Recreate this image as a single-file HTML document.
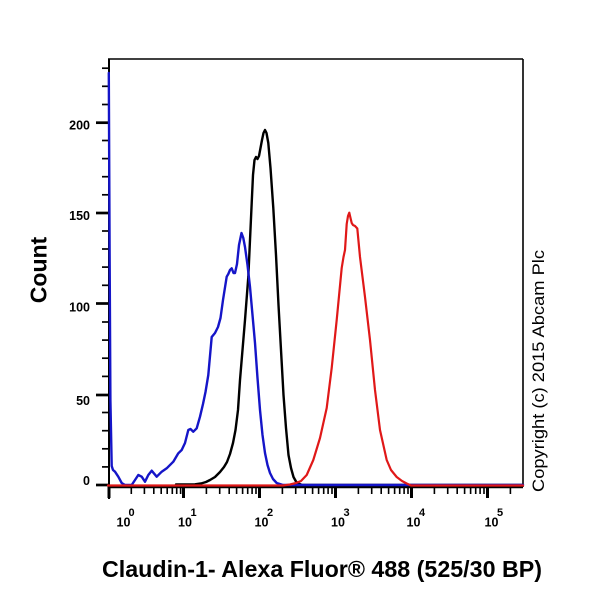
<!DOCTYPE html>
<html>
<head>
<meta charset="utf-8">
<style>
html,body{margin:0;padding:0;background:#fff;}
svg{display:block;}
</style>
</head>
<body>
<svg width="600" height="600" viewBox="0 0 600 600" xmlns="http://www.w3.org/2000/svg">
<rect width="600" height="600" fill="#fff"/>

<!-- frame -->
<line x1="108" y1="59" x2="523" y2="59" stroke="#000" stroke-width="1.6"/>
<line x1="523" y1="59" x2="523" y2="487" stroke="#000" stroke-width="1.6"/>
<line x1="109" y1="59" x2="109" y2="499" stroke="#000" stroke-width="2"/>
<line x1="108" y1="487" x2="523" y2="487" stroke="#000" stroke-width="2.4"/>

<!-- y ticks -->
<g stroke="#000">
  <g stroke-width="2.7">
    <line x1="96" y1="485" x2="109" y2="485"/>
    <line x1="96" y1="395" x2="109" y2="395"/>
    <line x1="96" y1="303.5" x2="109" y2="303.5"/>
    <line x1="96" y1="213" x2="109" y2="213"/>
    <line x1="96" y1="122.7" x2="109" y2="122.7"/>
  </g>
  <g stroke-width="1.7">
    <line x1="102" y1="466.9" x2="109" y2="466.9"/>
    <line x1="102" y1="448.8" x2="109" y2="448.8"/>
    <line x1="102" y1="430.7" x2="109" y2="430.7"/>
    <line x1="102" y1="412.5" x2="109" y2="412.5"/>
    <line x1="102" y1="376.4" x2="109" y2="376.4"/>
    <line x1="102" y1="358.2" x2="109" y2="358.2"/>
    <line x1="102" y1="340.1" x2="109" y2="340.1"/>
    <line x1="102" y1="322" x2="109" y2="322"/>
    <line x1="102" y1="285.3" x2="109" y2="285.3"/>
    <line x1="102" y1="267.1" x2="109" y2="267.1"/>
    <line x1="102" y1="249" x2="109" y2="249"/>
    <line x1="102" y1="231" x2="109" y2="231"/>
    <line x1="102" y1="194.8" x2="109" y2="194.8"/>
    <line x1="102" y1="176.7" x2="109" y2="176.7"/>
    <line x1="102" y1="158.6" x2="109" y2="158.6"/>
    <line x1="102" y1="140.5" x2="109" y2="140.5"/>
    <line x1="102" y1="104.5" x2="109" y2="104.5"/>
    <line x1="102" y1="86.3" x2="109" y2="86.3"/>
    <line x1="102" y1="68.2" x2="109" y2="68.2"/>
  </g>
</g>

<!-- y labels -->
<g font-family="Liberation Sans, Arial, sans-serif" font-weight="bold" font-size="12.5" fill="#000" text-anchor="end">
  <text x="90" y="129.5">200</text>
  <text x="90" y="220">150</text>
  <text x="90" y="311.5">100</text>
  <text x="90" y="405">50</text>
  <text x="90" y="485">0</text>
</g>

<!-- x ticks -->
<g stroke="#000" stroke-width="3">
  <line x1="109" y1="486" x2="109" y2="498"/>
  <line x1="183.5" y1="486" x2="183.5" y2="498"/>
  <line x1="259.5" y1="486" x2="259.5" y2="498"/>
  <line x1="335.5" y1="486" x2="335.5" y2="498"/>
  <line x1="411.5" y1="486" x2="411.5" y2="498"/>
  <line x1="487.5" y1="486" x2="487.5" y2="498"/>
</g>
<g stroke="#000" stroke-width="1.6">
  <path d="M131.3 486V494M144.4 486V494M153.8 486V494M161.2 486V494M167.2 486V494M172.3 486V494M176.7 486V494M180.6 486V494"/>
  <path d="M206.4 486V494M219.7 486V494M229.2 486V494M236.6 486V494M242.6 486V494M247.7 486V494M252.1 486V494M256 486V494"/>
  <path d="M282.4 486V494M295.7 486V494M305.2 486V494M312.6 486V494M318.6 486V494M323.7 486V494M328.1 486V494M332 486V494"/>
  <path d="M358.4 486V494M371.7 486V494M381.2 486V494M388.6 486V494M394.6 486V494M399.7 486V494M404.1 486V494M408 486V494"/>
  <path d="M434.4 486V494M447.7 486V494M457.2 486V494M464.6 486V494M470.6 486V494M475.7 486V494M480.1 486V494M484 486V494"/>
  <path d="M510.4 486V494"/>
</g>

<!-- x labels -->
<g font-family="Liberation Sans, Arial, sans-serif" font-weight="bold" fill="#000">
  <text x="116.5" y="526.5" font-size="12.5">10</text><text x="128.5" y="516" font-size="11">0</text>
  <text x="178" y="526.5" font-size="12.5">10</text><text x="190.5" y="516" font-size="11">1</text>
  <text x="254.5" y="526.5" font-size="12.5">10</text><text x="267" y="516" font-size="11">2</text>
  <text x="331" y="526.5" font-size="12.5">10</text><text x="343.5" y="516" font-size="11">3</text>
  <text x="406.5" y="526.5" font-size="12.5">10</text><text x="419" y="516" font-size="11">4</text>
  <text x="484.5" y="526.5" font-size="12.5">10</text><text x="497" y="516" font-size="11">5</text>
</g>

<!-- series -->
<g fill="none" stroke-linejoin="round" stroke-linecap="round">
  <!-- black -->
  <path stroke="#000" stroke-width="2.4" d="M176 484.5 L195 484.3 L201 483.5 L206 482 L210 480 L215 477 L220 472 L224 467 L227 462 L230 454 L233 443 L235.5 430 L238 410 L240 380 L242.5 350 L245 320 L248.3 277 L250 240 L251.7 203 L253 175 L254.5 160 L256 157 L257.5 159 L259 156 L260.5 148 L262 140 L263.5 133 L265 130 L266.5 133 L268.3 143 L270.5 168 L273.3 208 L276 255 L278.5 305 L281 350 L283.5 395 L286 428 L288.5 455 L291 468 L293.5 477 L296 481.5 L298.5 483.5 L302 485 L523 485"/>
  <!-- blue -->
  <path stroke="#1515c8" stroke-width="2.4" d="M108.8 73 L109.6 250 L110.4 400 L111.7 466 L113 470 L115 471.7 L118.3 476.7 L121.7 483 L125 485 L131.7 485 L135 480 L138.3 475 L141.7 476.7 L145 481.7 L148.3 475 L151.7 470.7 L156.7 476.7 L161.7 471.7 L166.7 468.3 L173.3 461.7 L178.3 453.3 L181.7 450 L185 443 L188.3 430 L190.5 429 L193.3 431.7 L196.7 428.3 L200 416.7 L203 404 L205.5 392 L208.3 375 L211.7 337 L215 333 L218 327 L220.5 318 L223 300 L226.7 276.7 L228.3 274 L230 270 L231.7 268.3 L233.5 273 L235 273 L237 264 L239 245 L241.5 233 L243.3 238 L245 247 L247.5 265 L250 287 L252.5 315 L255 343 L257.5 378 L260 410 L262.5 435 L265 453 L267.5 465 L270 473 L273 479 L276.7 483 L283 485 L523 485"/>
  <!-- red -->
  <path stroke="#e01818" stroke-width="2.2" d="M108 485.5 L283 485.5 L290 484.5 L296 483 L301 481 L306.7 475 L313.3 460 L320 438 L326.7 408 L331.7 368 L336.7 320 L341.7 268 L343.5 257 L345 250 L346.7 224 L348 216 L349.3 212.7 L350.5 218 L351.7 223 L353 225 L355 226 L357.3 228.5 L360 257 L365 297 L370 340 L375 390 L380 430 L386.7 460 L391 470 L396.7 477 L402 481 L406.7 483.5 L411 485.5 L523 485.5"/>
</g>

<!-- axis titles -->
<text transform="translate(46.5,270) rotate(-90)" text-anchor="middle" font-family="Liberation Sans, Arial, sans-serif" font-weight="bold" font-size="23" fill="#000">Count</text>
<text x="102" y="577" font-family="Liberation Sans, Arial, sans-serif" font-weight="bold" font-size="23" fill="#000" textLength="440" lengthAdjust="spacingAndGlyphs">Claudin-1- Alexa Fluor® 488 (525/30 BP)</text>
<text transform="translate(544,492) rotate(-90)" font-family="Liberation Sans, Arial, sans-serif" font-size="17" fill="#000" textLength="242" lengthAdjust="spacingAndGlyphs">Copyright (c) 2015 Abcam Plc</text>
</svg>
</body>
</html>
